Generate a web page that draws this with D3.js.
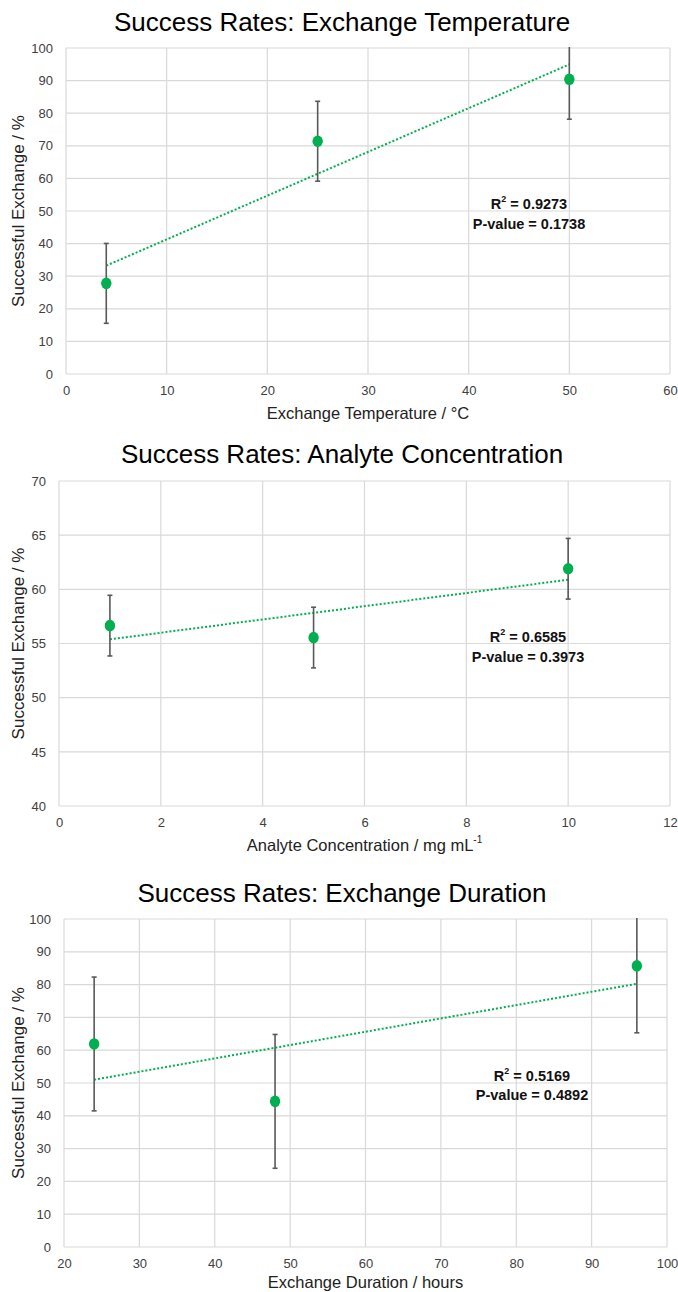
<!DOCTYPE html>
<html>
<head>
<meta charset="utf-8">
<script src="https://cdn.jsdelivr.net/npm/d3@7"></script>
<style>
  html, body { margin: 0; padding: 0; background: #fff; }
  svg { display: block; }
</style>
</head>
<body>
<script>
// ---------- Data ----------
const tempTitle = "Success Rates: Exchange Temperature";
const tempXLabel = "Exchange Temperature / °C";
const tempX = [4, 25, 50];
const tempY = [27.8, 71.4, 90.4];
const tempErr = [12.25, 12.25, 12.25];
const tempXTicks = [0, 10, 20, 30, 40, 50, 60];
const tempYTicks = [0, 10, 20, 30, 40, 50, 60, 70, 80, 90, 100];
const tempR2 = "0.9273";
const tempP = "0.1738";

const concTitle = "Success Rates: Analyte Concentration";
const concXLabel = "Analyte Concentration / mg mL";
const concX = [1, 5, 10];
const concY = [56.65, 55.55, 61.9];
const concErr = [2.8, 2.8, 2.8];
const concXTicks = [0, 2, 4, 6, 8, 10, 12];
const concYTicks = [40, 45, 50, 55, 60, 65, 70];
const concR2 = "0.6585";
const concP = "0.3973";

const durTitle = "Success Rates: Exchange Duration";
const durXLabel = "Exchange Duration / hours";
const durX = [24, 48, 96];
const durY = [61.9, 44.4, 85.7];
const durErr = [20.4, 20.4, 20.4];
const durXTicks = [20, 30, 40, 50, 60, 70, 80, 90, 100];
const durYTicks = [0, 10, 20, 30, 40, 50, 60, 70, 80, 90, 100];
const durR2 = "0.5169";
const durP = "0.4892";

const yLabel = "Successful Exchange / %";

// ---------- Styling ----------
const GREEN = "#00B050";
const ERR = "#595959";
const GRID = "#d9d9d9";
const NARROW = "'Liberation Sans Narrow', 'Arial Narrow', 'Liberation Sans', sans-serif";
const SANS = "'Liberation Sans', Arial, sans-serif";

const W = 678, H = 1292;
const svg = d3.select("body").append("svg").attr("width", W).attr("height", H);

function linreg(xs, ys) {
  const n = xs.length;
  const mx = d3.mean(xs), my = d3.mean(ys);
  let sxy = 0, sxx = 0;
  for (let i = 0; i < n; i++) { sxy += (xs[i]-mx)*(ys[i]-my); sxx += (xs[i]-mx)**2; }
  const b = sxy / sxx;
  return { b, a: my - b*mx };
}

function drawChart(o) {
  const g = svg.append("g");
  const x = d3.scaleLinear().domain(d3.extent(o.xTicks)).range([o.left, o.right]);
  const y = d3.scaleLinear().domain(d3.extent(o.yTicks)).range([o.bottom, o.top]);
  const clipId = "clip" + o.id;
  svg.append("clipPath").attr("id", clipId).append("rect")
    .attr("x", o.left).attr("y", o.top - 1).attr("width", o.right - o.left).attr("height", o.bottom - o.top + 1);

  // gridlines
  g.append("g").selectAll("line").data(o.yTicks).join("line")
    .attr("x1", o.left).attr("x2", o.right)
    .attr("y1", d => y(d)).attr("y2", d => y(d))
    .attr("stroke", GRID).attr("stroke-width", 1.2);
  g.append("g").selectAll("line").data(o.xTicks).join("line")
    .attr("y1", o.top).attr("y2", o.bottom)
    .attr("x1", d => x(d)).attr("x2", d => x(d))
    .attr("stroke", GRID).attr("stroke-width", 1.2);

  // axes labels via d3 axes
  const yAxis = g.append("g").attr("transform", `translate(${o.left},0)`)
    .call(d3.axisLeft(y).tickValues(o.yTicks).tickSize(0).tickPadding(13));
  yAxis.select(".domain").remove();
  yAxis.selectAll("text").attr("font-family", o.tickFont).attr("font-size", 13).attr("fill", "#404040");

  const xAxis = g.append("g").attr("transform", `translate(0,${o.bottom})`)
    .call(d3.axisBottom(x).tickValues(o.xTicks).tickSize(0).tickPadding(12));
  xAxis.select(".domain").remove();
  xAxis.selectAll("text").attr("font-family", o.tickFont).attr("font-size", 13).attr("fill", "#404040");

  // title
  g.append("text").attr("x", o.titleX).attr("y", o.titleY)
    .attr("text-anchor", "middle").attr("dominant-baseline", "central")
    .attr("font-family", NARROW).attr("font-size", 26).attr("fill", "#000")
    .text(o.title);

  // y label
  g.append("text")
    .attr("transform", `translate(${o.yLabelX},${(o.top + o.bottom)/2}) rotate(-90)`)
    .attr("text-anchor", "middle").attr("dominant-baseline", "central")
    .attr("font-family", SANS).attr("font-size", 17).attr("fill", "#222")
    .text(yLabel);

  // x label
  const xl = g.append("text").attr("x", (o.left + o.right)/2).attr("y", o.xLabelY)
    .attr("text-anchor", "middle").attr("dominant-baseline", "central")
    .attr("font-family", NARROW).attr("font-size", 16.5).attr("fill", "#222")
    .text(o.xLabel);
  if (o.xSup) xl.append("tspan").attr("baseline-shift", "super").attr("font-size", 10).text(o.xSup);

  const data = o.xs.map((d, i) => ({ x: d, y: o.ys[i], e: o.errs[i] }));
  const marks = g.append("g").attr("clip-path", `url(#${clipId})`);

  // trendline
  const r = linreg(o.xs, o.ys);
  const x0 = d3.min(o.xs), x1 = d3.max(o.xs);
  marks.append("line")
    .attr("x1", x(x0)).attr("y1", y(r.a + r.b*x0))
    .attr("x2", x(x1)).attr("y2", y(r.a + r.b*x1))
    .attr("stroke", GREEN).attr("stroke-width", 2).attr("stroke-dasharray", "2,2");

  // error bars
  const eb = marks.append("g").selectAll("g").data(data).join("g");
  eb.append("line").attr("x1", d => x(d.x)).attr("x2", d => x(d.x))
    .attr("y1", d => y(d.y - d.e)).attr("y2", d => y(d.y + d.e))
    .attr("stroke", ERR).attr("stroke-width", 1.6);
  eb.append("line").attr("x1", d => x(d.x) - 2.5).attr("x2", d => x(d.x) + 2.5)
    .attr("y1", d => y(d.y - d.e)).attr("y2", d => y(d.y - d.e))
    .attr("stroke", ERR).attr("stroke-width", 1.6);
  eb.append("line").attr("x1", d => x(d.x) - 2.5).attr("x2", d => x(d.x) + 2.5)
    .attr("y1", d => y(d.y + d.e)).attr("y2", d => y(d.y + d.e))
    .attr("stroke", ERR).attr("stroke-width", 1.6);

  // points
  marks.append("g").selectAll("ellipse").data(data).join("ellipse")
    .attr("cx", d => x(d.x)).attr("cy", d => y(d.y)).attr("rx", 5.2).attr("ry", 5.8)
    .attr("fill", GREEN);

  // annotation
  const t1 = g.append("text").attr("x", o.annX).attr("y", o.annY1)
    .attr("text-anchor", "middle").attr("dominant-baseline", "central")
    .attr("font-family", NARROW).attr("font-weight", "bold").attr("font-size", 14.5).attr("fill", "#111");
  t1.append("tspan").text("R");
  t1.append("tspan").attr("baseline-shift", "super").attr("font-size", 9).text("2");
  t1.append("tspan").text(" = " + o.r2);
  g.append("text").attr("x", o.annX).attr("y", o.annY2)
    .attr("text-anchor", "middle").attr("dominant-baseline", "central")
    .attr("font-family", NARROW).attr("font-weight", "bold").attr("font-size", 14.5).attr("fill", "#111")
    .text("P-value = " + o.p);
}

drawChart({ id: 1, title: tempTitle, xLabel: tempXLabel, xs: tempX, ys: tempY, errs: tempErr,
  xTicks: tempXTicks, yTicks: tempYTicks, r2: tempR2, p: tempP,
  left: 66, right: 670, top: 48, bottom: 374, titleX: 342, titleY: 22, xLabelY: 413, yLabelX: 18,
  annX: 529, annY1: 204, annY2: 224, tickFont: SANS });

drawChart({ id: 2, title: concTitle, xLabel: concXLabel, xSup: "-1", xs: concX, ys: concY, errs: concErr,
  xTicks: concXTicks, yTicks: concYTicks, r2: concR2, p: concP,
  left: 59, right: 670, top: 481, bottom: 806, titleX: 342, titleY: 454, xLabelY: 845, yLabelX: 18,
  annX: 528, annY1: 637, annY2: 657, tickFont: SANS });

drawChart({ id: 3, title: durTitle, xLabel: durXLabel, xs: durX, ys: durY, errs: durErr,
  xTicks: durXTicks, yTicks: durYTicks, r2: durR2, p: durP,
  left: 64, right: 667, top: 919, bottom: 1247, titleX: 342, titleY: 893, xLabelY: 1282, yLabelX: 18,
  annX: 532, annY1: 1076, annY2: 1095, tickFont: NARROW });
</script>
</body>
</html>
